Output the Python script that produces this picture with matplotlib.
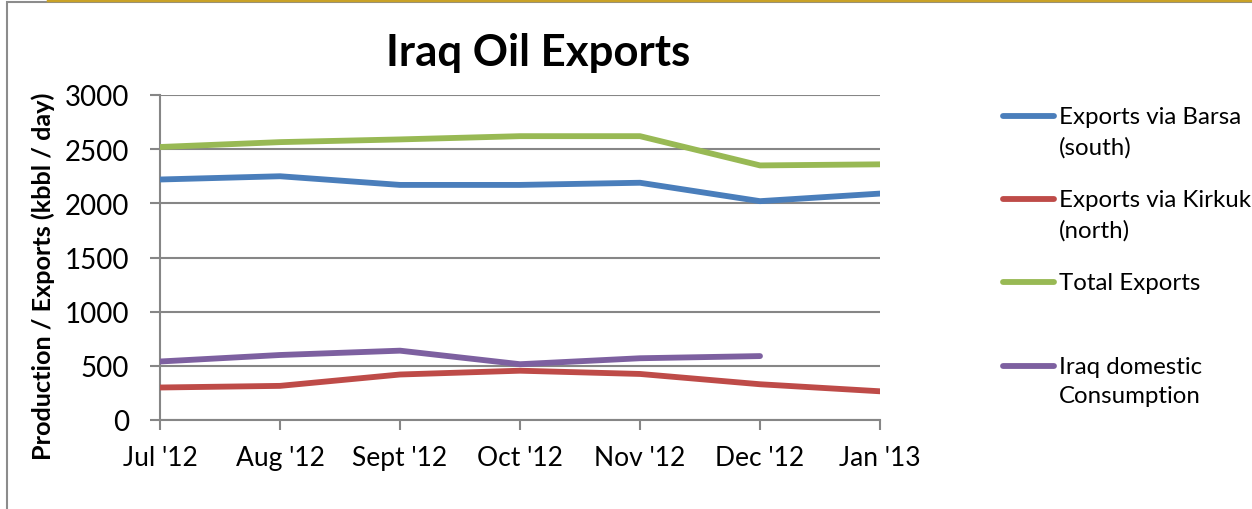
import matplotlib
matplotlib.use("Agg")
import matplotlib.pyplot as plt
from matplotlib.lines import Line2D
from matplotlib.patches import Rectangle

plt.rcParams['font.family'] = ['Lato', 'DejaVu Sans']

months = ["Jul '12", "Aug '12", "Sept '12", "Oct '12", "Nov '12", "Dec '12", "Jan '13"]
barsa = [2220, 2250, 2170, 2170, 2190, 2020, 2090]
kirkuk = [300, 315, 420, 455, 425, 330, 265]
total = [2520, 2565, 2590, 2620, 2620, 2350, 2360]
domestic = [540, 600, 640, 515, 570, 590]
labels = ["Exports via Barsa\n(south)", "Exports via Kirkuk\n(north)", "Total Exports", "Iraq domestic\nConsumption"]
colors = ["#4A7EBB", "#BE4B48", "#98B954", "#7D60A0"]
yticks = [0, 500, 1000, 1500, 2000, 2500, 3000]

W, H = 1252, 510
fig = plt.figure(figsize=(W / 100, H / 100), dpi=100)
fig.patch.set_facecolor('white')

# frame and top accent
fig.add_artist(Rectangle((7 / W, -0.1), 1.2, (H - 3) / H + 0.1, transform=fig.transFigure,
                         fill=False, edgecolor='#8C8C8C', linewidth=1.5))
fig.add_artist(Line2D([48 / W, 1.0], [1 - 1 / H, 1 - 1 / H], transform=fig.transFigure,
                      color='#C9A227', linewidth=2.5))

ax = fig.add_axes([160 / W, 1 - 421 / H, (880 - 160) / W, (421 - 96) / H])
x = list(range(len(months)))
series = [barsa, kirkuk, total, domestic]
for s, c in zip(series, colors):
    ax.plot(x[:len(s)], s, color=c, linewidth=4.2, solid_capstyle='round', solid_joinstyle='round', zorder=3)

ax.set_xlim(0, len(months) - 1)
ax.set_ylim(0, 3000)
ax.set_yticks(yticks)
ax.set_yticklabels([str(v) for v in yticks])
ax.set_xticks(x)
ax.set_xticklabels(months)
ax.grid(axis='y', color='#868686', linewidth=1.5)
ax.set_axisbelow(True)
for sp in ['top', 'right']:
    ax.spines[sp].set_visible(False)
for sp in ['left', 'bottom']:
    ax.spines[sp].set_color('#868686')
    ax.spines[sp].set_linewidth(1.5)
ax.tick_params(axis='y', length=7.5, width=1.5, color='#868686', labelsize=20, pad=15)
ax.tick_params(axis='x', length=7, width=1.5, color='#868686', labelsize=19, pad=11)

ax.set_ylabel("Production / Exports (kbbl / day)", fontsize=18.2, fontweight='bold')
ax.yaxis.set_label_coords(-0.146, 0.446)
fig.text(538 / W, 1 - 53 / H, "Iraq Oil Exports", ha='center', va='center', fontsize=31.5, fontweight='bold')

# legend
leg_y = [117, 200, 283, 367]
for lab, c, yy in zip(labels, colors, leg_y):
    fig.add_artist(Line2D([1003 / W, 1054 / W], [1 - yy / H, 1 - yy / H], transform=fig.transFigure,
                          color=c, linewidth=4.2, solid_capstyle='round'))
    fig.text(1059 / W, 1 - (yy - 10) / H, lab, ha='left', va='top', fontsize=17.3, linespacing=1.5)

fig.savefig("out.png", dpi=100, facecolor='white')
